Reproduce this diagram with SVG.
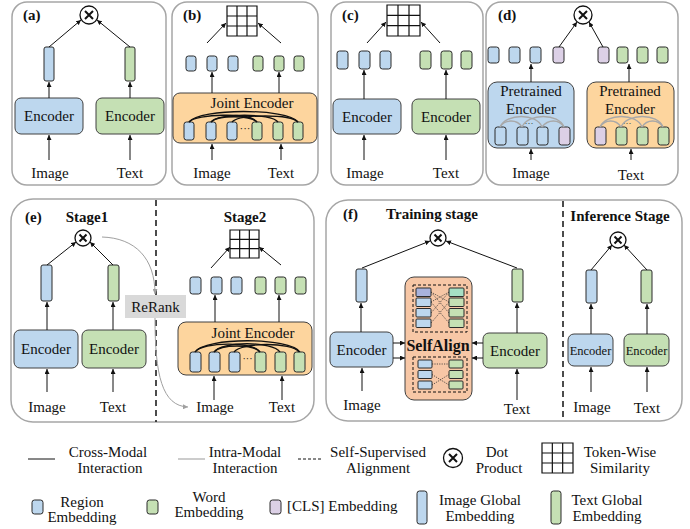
<svg xmlns="http://www.w3.org/2000/svg" width="690" height="529" viewBox="0 0 690 529" font-family="'Liberation Serif', Tinos, 'DejaVu Serif', 'Times New Roman', serif">
<style>
text{font-family:'Liberation Serif',Tinos,'DejaVu Serif','Times New Roman',serif;font-size:15px;fill:#111}
.c{text-anchor:middle}
.b{font-weight:bold}
.panel{fill:#fff;stroke:#a6a6a6;stroke-width:1.5}
.enc{stroke:#404040;stroke-width:1}
.blue{fill:#BDD7EE}
.green{fill:#C5E0B4}
.purple{fill:#DCD0E6}
.orange{fill:#FDD59E}
.tok{stroke:#2b2b2b;stroke-width:1}
.ln{stroke:#111;stroke-width:1;fill:none}
.arr{stroke:#111;stroke-width:1;fill:none;marker-end:url(#ah)}
.garr{stroke:#a0a0a0;stroke-width:1;fill:none;marker-end:url(#gah)}
.arc{stroke:#111;stroke-width:1.3;fill:none}
.garc{stroke:#a8a8a8;stroke-width:1.3;fill:none}
.dot{fill:#fff;stroke:#111;stroke-width:1.3}
.x{stroke:#111;stroke-width:2}
.div{stroke:#111;stroke-width:1.5;stroke-dasharray:6,4}
.dash{fill:none;stroke:#111;stroke-width:1;stroke-dasharray:3,2}
.dotted{stroke:#333;stroke-width:0.8;stroke-dasharray:1.2,1.2;fill:none}
</style>
<defs>
<marker id="ah" viewBox="0 0 6 6" refX="6" refY="3" markerWidth="5" markerHeight="5" markerUnits="userSpaceOnUse" orient="auto"><path d="M0,0 L6,3 L0,6 z" fill="#111"/></marker>
<marker id="gah" viewBox="0 0 6 6" refX="6" refY="3" markerWidth="5" markerHeight="5" markerUnits="userSpaceOnUse" orient="auto"><path d="M0,0 L6,3 L0,6 z" fill="#a0a0a0"/></marker>
<symbol id="grid3" viewBox="0 0 30 30" preserveAspectRatio="none" overflow="visible">
<rect x="0" y="0" width="30" height="30" fill="#fff" stroke="#111" stroke-width="1.2" vector-effect="non-scaling-stroke"/>
<path d="M10,0V30M20,0V30M0,10H30M0,20H30" stroke="#111" stroke-width="1.2" vector-effect="non-scaling-stroke"/>
</symbol>
</defs>

<!-- Panels -->
<g id="panels">
<rect class="panel" x="12" y="2" width="154" height="183" rx="15"/>
<rect class="panel" x="172" y="2" width="146" height="183" rx="15"/>
<rect class="panel" x="331" y="2" width="152" height="183" rx="15"/>
<rect class="panel" x="486" y="2" width="192" height="183" rx="15"/>
<rect class="panel" x="11" y="199" width="303" height="223" rx="22"/>
<rect class="panel" x="326" y="200" width="356" height="221" rx="22"/>
<line class="div" x1="156" y1="200" x2="156" y2="422"/>
<line class="div" x1="563" y1="201" x2="563" y2="421"/>
</g>

<!-- Panel (a) -->
<g id="panel-a">
<text class="b" x="23" y="20">(a)</text>
<g id="a-dot"><circle class="dot" cx="89" cy="15" r="9"/><path class="x" d="M85,11L93,19M93,11L85,19"/></g>
<rect id="a-img-g" class="tok blue" x="44" y="47" width="10" height="34" rx="2"/>
<rect id="a-txt-g" class="tok green" x="125" y="47" width="10" height="34" rx="2"/>
<g id="a-enc-img"><rect class="enc blue" x="15" y="98" width="68" height="36" rx="6"/><text class="c" x="49" y="121">Encoder</text></g>
<g id="a-enc-txt"><rect class="enc green" x="96" y="98" width="68" height="36" rx="6"/><text class="c" x="130" y="121">Encoder</text></g>
<text id="a-image" class="c" x="50" y="178">Image</text>
<text id="a-text" class="c" x="130" y="178">Text</text>
</g>

<!-- Panel (b) -->
<g id="panel-b">
<text class="b" x="183" y="20">(b)</text>
<use id="b-grid" href="#grid3" x="227" y="6" width="30" height="30"/>
<g id="b-tokens">
<rect class="tok blue" x="186" y="56" width="10" height="15" rx="2.5"/>
<rect class="tok blue" x="207" y="56" width="10" height="15" rx="2.5"/>
<rect class="tok blue" x="228" y="56" width="10" height="15" rx="2.5"/>
<rect class="tok green" x="253" y="56" width="10" height="15" rx="2.5"/>
<rect class="tok green" x="274" y="56" width="10" height="15" rx="2.5"/>
<rect class="tok green" x="294" y="56" width="10" height="15" rx="2.5"/>
</g>
<g id="b-joint">
<rect class="enc orange" x="173" y="93" width="144" height="50" rx="7"/>
<text class="c" x="252" y="108">Joint Encoder</text>
<rect class="tok blue" x="184" y="122" width="10" height="18" rx="2.5"/>
<rect class="tok blue" x="206" y="122" width="10" height="18" rx="2.5"/>
<rect class="tok blue" x="227" y="122" width="10" height="18" rx="2.5"/>
<rect class="tok green" x="252" y="122" width="10" height="18" rx="2.5"/>
<rect class="tok green" x="273" y="122" width="10" height="18" rx="2.5"/>
<rect class="tok green" x="293" y="122" width="10" height="18" rx="2.5"/>
<text class="c" x="245" y="132" style="font-size:11px">···</text>
</g>
<text id="b-image" class="c" x="212" y="178">Image</text>
<text id="b-text" class="c" x="281" y="178">Text</text>
</g>

<!-- Panel (c) -->
<g id="panel-c">
<text class="b" x="342" y="20">(c)</text>
<use id="c-grid" href="#grid3" x="387" y="5" width="33" height="31"/>
<g id="c-tokens">
<rect class="tok blue" x="337" y="51" width="11" height="18" rx="2.5"/>
<rect class="tok blue" x="359" y="51" width="11" height="18" rx="2.5"/>
<rect class="tok blue" x="380" y="51" width="11" height="18" rx="2.5"/>
<rect class="tok green" x="420" y="51" width="11" height="18" rx="2.5"/>
<rect class="tok green" x="441" y="51" width="11" height="18" rx="2.5"/>
<rect class="tok green" x="461" y="51" width="11" height="18" rx="2.5"/>
</g>
<g id="c-enc-img"><rect class="enc blue" x="333" y="99" width="68" height="35" rx="6"/><text class="c" x="367" y="122">Encoder</text></g>
<g id="c-enc-txt"><rect class="enc green" x="412" y="99" width="68" height="35" rx="6"/><text class="c" x="446" y="122">Encoder</text></g>
<text id="c-image" class="c" x="365" y="178">Image</text>
<text id="c-text" class="c" x="446" y="178">Text</text>
</g>

<!-- Panel (d) -->
<g id="panel-d">
<text class="b" x="498" y="20">(d)</text>
<g id="d-dot"><circle class="dot" cx="583" cy="15" r="9"/><path class="x" d="M579,11L587,19M587,11L579,19"/></g>
<g id="d-tokens">
<rect class="tok blue" x="488" y="47" width="11" height="16" rx="2.5"/>
<rect class="tok blue" x="509" y="47" width="11" height="16" rx="2.5"/>
<rect class="tok blue" x="530" y="47" width="11" height="16" rx="2.5"/>
<rect class="tok purple" x="553" y="47" width="11" height="16" rx="2.5"/>
<rect class="tok purple" x="598" y="47" width="11" height="16" rx="2.5"/>
<rect class="tok green" x="617" y="47" width="11" height="16" rx="2.5"/>
<rect class="tok green" x="637" y="47" width="11" height="16" rx="2.5"/>
<rect class="tok green" x="657" y="47" width="11" height="16" rx="2.5"/>
</g>
<g id="d-enc-img">
<rect class="enc blue" x="488" y="82" width="86" height="66" rx="9"/>
<text class="c" x="531" y="96">Pretrained</text>
<text class="c" x="531" y="114">Encoder</text>
<rect class="tok blue" x="495" y="127" width="11" height="18" rx="2.5"/>
<rect class="tok blue" x="517" y="127" width="11" height="18" rx="2.5"/>
<rect class="tok blue" x="537" y="127" width="11" height="18" rx="2.5"/>
<rect class="tok purple" x="559" y="127" width="11" height="18" rx="2.5"/>
<text class="c" x="529" y="126" style="font-size:9px">···</text>
</g>
<g id="d-enc-txt">
<rect class="enc orange" x="587" y="82" width="87" height="66" rx="9"/>
<text class="c" x="630" y="96">Pretrained</text>
<text class="c" x="630" y="114">Encoder</text>
<rect class="tok purple" x="595" y="127" width="11" height="18" rx="2.5"/>
<rect class="tok green" x="616" y="127" width="11" height="18" rx="2.5"/>
<rect class="tok green" x="637" y="127" width="11" height="18" rx="2.5"/>
<rect class="tok green" x="658" y="127" width="11" height="18" rx="2.5"/>
<text class="c" x="627" y="126" style="font-size:9px">···</text>
</g>
<text id="d-image" class="c" x="531" y="178">Image</text>
<text id="d-text" class="c" x="631" y="180">Text</text>
</g>

<!-- Panel (e) -->
<g id="panel-e">
<text class="b" x="25" y="222">(e)</text>
<text class="b c" x="87" y="222">Stage1</text>
<g id="e-dot"><circle class="dot" cx="83" cy="238" r="8"/><path class="x" d="M79.5,234.5L86.5,241.5M86.5,234.5L79.5,241.5"/></g>
<rect id="e-img-g" class="tok blue" x="41" y="265" width="11" height="36" rx="2"/>
<rect id="e-txt-g" class="tok green" x="108" y="265" width="11" height="36" rx="2"/>
<g id="e-enc-img"><rect class="enc blue" x="14" y="330" width="64" height="38" rx="6"/><text class="c" x="46" y="354">Encoder</text></g>
<g id="e-enc-txt"><rect class="enc green" x="82" y="330" width="64" height="38" rx="6"/><text class="c" x="114" y="354">Encoder</text></g>
<text id="e-image1" class="c" x="47" y="412">Image</text>
<text id="e-text1" class="c" x="113" y="412">Text</text>
<g id="e-rerank"><rect x="125" y="295" width="61" height="23" fill="#d9d9d9"/><text class="c" x="155.5" y="312">ReRank</text></g>
<text class="b c" x="245" y="222">Stage2</text>
<use id="e-grid" href="#grid3" x="230" y="230" width="29" height="28"/>
<g id="e-tokens">
<rect class="tok blue" x="190" y="277" width="11" height="17" rx="2.5"/>
<rect class="tok blue" x="211" y="277" width="11" height="17" rx="2.5"/>
<rect class="tok blue" x="231" y="277" width="11" height="17" rx="2.5"/>
<rect class="tok green" x="255" y="277" width="11" height="17" rx="2.5"/>
<rect class="tok green" x="275" y="277" width="11" height="17" rx="2.5"/>
<rect class="tok green" x="295" y="277" width="11" height="17" rx="2.5"/>
</g>
<g id="e-joint">
<rect class="enc orange" x="178" y="322" width="134" height="53" rx="8"/>
<text class="c" x="253" y="338">Joint Encoder</text>
<rect class="tok blue" x="190" y="352" width="11" height="20" rx="2.5"/>
<rect class="tok blue" x="209" y="352" width="11" height="20" rx="2.5"/>
<rect class="tok blue" x="229" y="352" width="11" height="20" rx="2.5"/>
<rect class="tok green" x="255" y="352" width="11" height="20" rx="2.5"/>
<rect class="tok green" x="275" y="352" width="11" height="20" rx="2.5"/>
<rect class="tok green" x="294" y="352" width="11" height="20" rx="2.5"/>
<text class="c" x="247.5" y="362" style="font-size:10px">···</text>
</g>
<text id="e-image2" class="c" x="215" y="412">Image</text>
<text id="e-text2" class="c" x="282" y="412">Text</text>
</g>

<!-- Panel (f) -->
<g id="panel-f">
<text class="b" x="343" y="219">(f)</text>
<text class="b c" x="432" y="219">Training stage</text>
<g id="f-dot"><circle class="dot" cx="438" cy="238" r="8"/><path class="x" d="M434.5,234.5L441.5,241.5M441.5,234.5L434.5,241.5"/></g>
<rect id="f-img-g" class="tok blue" x="356" y="269" width="11" height="33" rx="2"/>
<rect id="f-txt-g" class="tok green" x="512" y="269" width="11" height="33" rx="2"/>
<g id="f-enc-img"><rect class="enc blue" x="330" y="332" width="63" height="35" rx="6"/><text class="c" x="361.5" y="355">Encoder</text></g>
<g id="f-enc-txt"><rect class="enc green" x="483" y="333" width="64" height="35" rx="6"/><text class="c" x="515" y="356">Encoder</text></g>
<text id="f-image" class="c" x="362" y="410">Image</text>
<text id="f-text" class="c" x="517" y="414">Text</text>
<g id="f-selfalign">
<rect x="405" y="277" width="67" height="123" rx="9" fill="#F7C7A6" stroke="#404040" stroke-width="1"/>
<rect class="dash" x="413" y="285" width="54" height="47"/>
<rect class="tok" fill="#A9B3DC" x="416" y="288" width="15" height="8.5" rx="1"/>
<rect class="tok blue" x="416" y="298" width="15" height="8.5" rx="1"/>
<rect class="tok blue" x="416" y="308.5" width="15" height="8.5" rx="1"/>
<rect class="tok blue" x="416" y="319" width="15" height="8.5" rx="1"/>
<rect class="tok" fill="#A6DFC4" x="449" y="288" width="15" height="8.5" rx="1"/>
<rect class="tok green" x="449" y="298" width="15" height="8.5" rx="1"/>
<rect class="tok green" x="449" y="308.5" width="15" height="8.5" rx="1"/>
<rect class="tok green" x="449" y="319" width="15" height="8.5" rx="1"/>
<path class="dotted" d="M431,292L449,302M431,292L449,313M431,302L449,292M431,302L449,323M431,313L449,292M431,323L449,302"/>
<text class="b c" x="438" y="351" style="font-size:16px">SelfAlign</text>
<rect class="dash" x="413" y="357" width="54" height="35"/>
<rect class="tok blue" x="418" y="360" width="14" height="8" rx="1"/>
<rect class="tok blue" x="418" y="370.5" width="14" height="8" rx="1"/>
<rect class="tok blue" x="418" y="381" width="14" height="8" rx="1"/>
<rect class="tok green" x="449" y="360" width="14" height="8" rx="1"/>
<rect class="tok green" x="449" y="370.5" width="14" height="8" rx="1"/>
<rect class="tok green" x="449" y="381" width="14" height="8" rx="1"/>
<path class="dotted" d="M432,364L449,364M432,374.5L449,385M432,385L449,374.5"/>
</g>
<text class="b c" x="620" y="221">Inference Stage</text>
<g id="f-dot2"><circle class="dot" cx="618" cy="240" r="8"/><path class="x" d="M614.5,236.5L621.5,243.5M621.5,236.5L614.5,243.5"/></g>
<rect id="f-img-g2" class="tok blue" x="586" y="270" width="11" height="33" rx="2"/>
<rect id="f-txt-g2" class="tok green" x="641" y="270" width="11" height="33" rx="2"/>
<g id="f-enc-img2"><rect class="enc blue" x="568" y="334" width="45" height="32" rx="6"/><text class="c" x="590.5" y="355" style="font-size:12.5px">Encoder</text></g>
<g id="f-enc-txt2"><rect class="enc green" x="624" y="334" width="45" height="32" rx="6"/><text class="c" x="646.5" y="355" style="font-size:12.5px">Encoder</text></g>
<text id="f-image2" class="c" x="592" y="412">Image</text>
<text id="f-text2" class="c" x="647" y="413">Text</text>
</g>

<!-- Connectors -->
<g id="connectors">
<line class="arr" x1="49" y1="47" x2="81" y2="20"/>
<line class="arr" x1="130" y1="47" x2="97" y2="20"/>
<line class="arr" x1="49" y1="98" x2="49" y2="82"/>
<line class="arr" x1="130" y1="98" x2="130" y2="82"/>
<line class="arr" x1="49" y1="160" x2="49" y2="135"/>
<line class="arr" x1="130" y1="160" x2="130" y2="135"/>
<line class="arr" x1="207" y1="43" x2="226" y2="23"/>
<line class="arr" x1="281" y1="43" x2="258" y2="23"/>
<line class="arr" x1="212" y1="93" x2="212" y2="72"/>
<line class="arr" x1="279" y1="93" x2="279" y2="72"/>
<line class="arr" x1="212" y1="160" x2="212" y2="144"/>
<line class="arr" x1="281" y1="160" x2="281" y2="144"/>
<path class="arc" d="M189,122C200,108 287,108 298,122"/>
<path class="arc" d="M189,122C196,114 250,112 257,122"/>
<path class="arc" d="M211,122C218,113 271,113 278,122"/>
<path class="arc" d="M232,122C240,114 290,114 298,122"/>
<path class="arc" d="M211,122C218,115 250,115 257,122"/>
<line class="arr" x1="367" y1="43" x2="386" y2="22"/>
<line class="arr" x1="440" y1="43" x2="421" y2="22"/>
<line class="arr" x1="364" y1="99" x2="364" y2="70"/>
<line class="arr" x1="446" y1="99" x2="446" y2="70"/>
<line class="arr" x1="364" y1="160" x2="364" y2="135"/>
<line class="arr" x1="446" y1="160" x2="446" y2="135"/>
<line class="arr" x1="559" y1="47" x2="577" y2="22"/>
<line class="arr" x1="603" y1="47" x2="589" y2="22"/>
<line class="arr" x1="531" y1="82" x2="531" y2="64"/>
<line class="arr" x1="629" y1="82" x2="629" y2="64"/>
<line class="arr" x1="531" y1="160" x2="531" y2="149"/>
<line class="arr" x1="631" y1="160" x2="631" y2="149"/>
<path class="garc" d="M500,127C506,113 537,113 542,127"/>
<path class="garc" d="M522,127C528,113 559,113 564,127"/>
<path class="garc" d="M500,127C505,119 517,119 522,127"/>
<path class="garc" d="M542,127C548,119 559,119 564,127"/>
<path class="garc" d="M600,127C606,113 637,113 642,127"/>
<path class="garc" d="M621,127C627,113 658,113 663,127"/>
<path class="garc" d="M600,127C605,119 616,119 621,127"/>
<path class="garc" d="M642,127C647,119 658,119 663,127"/>
<line class="arr" x1="47" y1="265" x2="76" y2="242"/>
<line class="arr" x1="113" y1="265" x2="90" y2="242"/>
<line class="arr" x1="47" y1="330" x2="47" y2="302"/>
<line class="arr" x1="113" y1="330" x2="113" y2="302"/>
<line class="arr" x1="47" y1="392" x2="47" y2="369"/>
<line class="arr" x1="113" y1="392" x2="113" y2="369"/>
<path class="garr" d="M102,237C135,238 155,258 155,294"/>
<path class="garr" d="M155,318C155,375 162,406 188,407"/>
<line class="arr" x1="211" y1="268" x2="230" y2="247"/>
<line class="arr" x1="281" y1="265" x2="259" y2="247"/>
<line class="arr" x1="215" y1="322" x2="215" y2="295"/>
<line class="arr" x1="279" y1="322" x2="279" y2="295"/>
<line class="arr" x1="214" y1="400" x2="214" y2="376"/>
<line class="arr" x1="282" y1="400" x2="282" y2="376"/>
<path class="arc" d="M195,352C205,337 290,337 300,352"/>
<path class="arc" d="M195,352C202,342 254,341 260,352"/>
<path class="arc" d="M214,352C221,341 273,341 280,352"/>
<path class="arc" d="M234,352C242,342 292,342 299,352"/>
<path class="arc" d="M214,352C221,344 253,344 260,352"/>
<line class="arr" x1="362" y1="268" x2="430" y2="241"/>
<line class="arr" x1="517" y1="268" x2="446" y2="241"/>
<line class="arr" x1="361" y1="332" x2="361" y2="303"/>
<line class="arr" x1="517" y1="333" x2="517" y2="303"/>
<line class="arr" x1="362" y1="391" x2="362" y2="368"/>
<line class="arr" x1="517" y1="400" x2="517" y2="369"/>
<line class="arr" x1="393" y1="343" x2="405" y2="343"/>
<line class="arr" x1="393" y1="358" x2="405" y2="358"/>
<line class="arr" x1="483" y1="343" x2="472" y2="343"/>
<line class="arr" x1="483" y1="358" x2="472" y2="358"/>
<line class="arr" x1="591" y1="270" x2="612" y2="245"/>
<line class="arr" x1="647" y1="270" x2="624" y2="245"/>
<line class="arr" x1="591" y1="334" x2="591" y2="304"/>
<line class="arr" x1="647" y1="334" x2="647" y2="304"/>
<line class="arr" x1="591" y1="392" x2="591" y2="367"/>
<line class="arr" x1="647" y1="392" x2="647" y2="367"/>
</g>

<!-- Legend -->
<g id="legend">
<line class="ln" x1="28" y1="459" x2="55" y2="459"/>
<text class="c" x="108" y="457">Cross-Modal</text>
<text class="c" x="110" y="473">Interaction</text>
<line x1="178" y1="459" x2="205" y2="459" stroke="#999" stroke-width="1"/>
<text class="c" x="245" y="457">Intra-Modal</text>
<text class="c" x="245" y="473">Interaction</text>
<line x1="298" y1="459" x2="323" y2="459" stroke="#111" stroke-width="1" stroke-dasharray="3,2"/>
<text class="c" x="378" y="457">Self-Supervised</text>
<text class="c" x="378" y="473">Alignment</text>
<circle class="dot" cx="453" cy="458" r="9.5"/><path class="x" d="M449,454L457,462M457,454L449,462"/>
<text class="c" x="497" y="457">Dot</text>
<text class="c" x="499" y="473">Product</text>
<use href="#grid3" x="542" y="443" width="31" height="30"/>
<text class="c" x="620" y="457">Token-Wise</text>
<text class="c" x="620" y="473">Similarity</text>
<rect class="tok blue" x="32" y="500" width="11" height="14" rx="2.5"/>
<text class="c" x="82" y="507">Region</text>
<text class="c" x="82" y="522">Embedding</text>
<rect class="tok green" x="147" y="500" width="11" height="14" rx="2.5"/>
<text class="c" x="209" y="502">Word</text>
<text class="c" x="209" y="517">Embedding</text>
<rect class="tok purple" x="270" y="500" width="11" height="14" rx="2.5"/>
<text x="287" y="511">[CLS] Embedding</text>
<rect class="tok blue" x="417" y="491" width="10" height="33" rx="2.5"/>
<text class="c" x="480" y="505">Image Global</text>
<text class="c" x="480" y="521">Embedding</text>
<rect class="tok green" x="551" y="491" width="10" height="33" rx="2.5"/>
<text class="c" x="607" y="505">Text Global</text>
<text class="c" x="607" y="521">Embedding</text>
</g>
</svg>
